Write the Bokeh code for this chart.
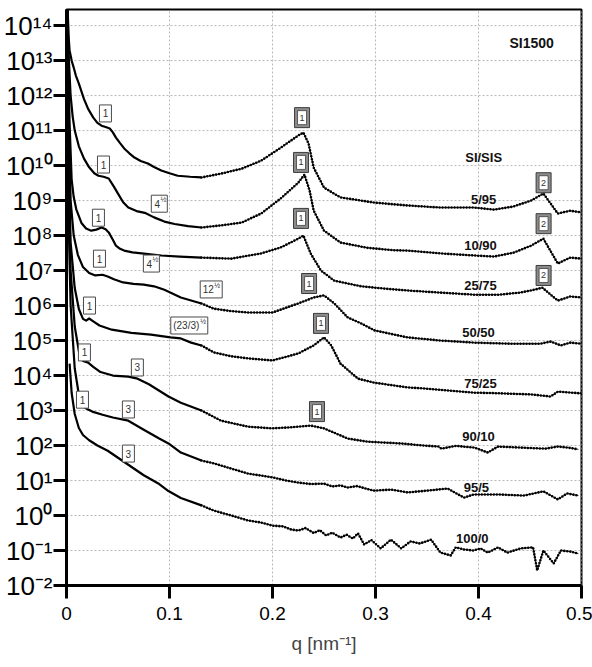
import numpy as np
from bokeh.plotting import figure
from bokeh.models import Range1d, FixedTicker, ColumnDataSource
from bokeh.embed import file_html
from bokeh.resources import INLINE
from bokeh.core.properties import value

# Scattering vector q [nm^-1] and log10 of the scattered intensity (shifted curves)
q_5_95 = [0.001, 0.002, 0.003, 0.005, 0.007, 0.009, 0.012, 0.017, 0.021, 0.026, 0.030, 0.034, 0.038, 0.042,
          0.045, 0.048, 0.052, 0.056, 0.061, 0.066, 0.072, 0.079, 0.085, 0.092, 0.100, 0.108, 0.120, 0.131,
          0.150, 0.170, 0.189, 0.208, 0.225, 0.230, 0.235, 0.240, 0.250, 0.266, 0.286, 0.299, 0.331, 0.363,
          0.396, 0.415, 0.434, 0.451, 0.463, 0.477, 0.489, 0.500]
lg_5_95 = [14.6, 13.7, 13.29, 13.0, 12.8, 12.58, 12.34, 11.9, 11.62, 11.37, 11.22, 11.14, 11.1, 11.06,
           10.95, 10.8, 10.64, 10.49, 10.35, 10.23, 10.13, 10.06, 9.96, 9.86, 9.78, 9.71, 9.68, 9.66,
           9.77, 9.91, 10.14, 10.51, 10.86, 10.94, 10.63, 9.94, 9.37, 9.09, 9.0, 8.94, 8.86, 8.8,
           8.8, 8.74, 8.83, 9.0, 9.2, 8.63, 8.71, 8.66]

q_10_90 = [0.001, 0.002, 0.004, 0.006, 0.008, 0.012, 0.017, 0.022, 0.027, 0.031, 0.036, 0.041, 0.046, 0.050,
           0.055, 0.060, 0.068, 0.076, 0.085, 0.095, 0.105, 0.118, 0.131, 0.150, 0.170, 0.189, 0.208, 0.225,
           0.231, 0.236, 0.240, 0.250, 0.266, 0.292, 0.318, 0.331, 0.363, 0.396, 0.415, 0.434, 0.451, 0.463,
           0.477, 0.489, 0.500]
lg_10_90 = [14.6, 13.2, 12.0, 11.4, 11.0, 10.55, 10.2, 9.95, 9.78, 9.71, 9.68, 9.63, 9.4, 9.2,
            8.95, 8.8, 8.7, 8.65, 8.52, 8.4, 8.33, 8.27, 8.23, 8.29, 8.37, 8.63, 9.06, 9.51,
            9.74, 9.29, 8.71, 8.14, 7.8, 7.65, 7.58, 7.57, 7.49, 7.43, 7.4, 7.51, 7.71, 7.91,
            7.2, 7.37, 7.34]

q_25_75 = [0.001, 0.002, 0.003, 0.005, 0.007, 0.0095, 0.0145, 0.019, 0.024, 0.029, 0.034, 0.038, 0.041, 0.045,
           0.048, 0.052, 0.056, 0.064, 0.073, 0.092, 0.110, 0.131, 0.160, 0.189, 0.208, 0.225, 0.230, 0.237,
           0.247, 0.260, 0.286, 0.310, 0.331, 0.363, 0.396, 0.420, 0.440, 0.451, 0.462, 0.477, 0.489, 0.500]
lg_25_75 = [14.6, 12.6, 11.2, 9.6, 9.1, 8.75, 8.36, 8.2, 8.14, 8.17, 8.23, 8.18, 8.09, 7.88,
            7.71, 7.62, 7.57, 7.52, 7.49, 7.43, 7.4, 7.37, 7.34, 7.49, 7.66, 7.91, 8.0, 7.49,
            7.0, 6.71, 6.55, 6.48, 6.43, 6.37, 6.31, 6.31, 6.37, 6.43, 6.51, 6.14, 6.26, 6.23]

q_50_50 = [0.001, 0.002, 0.004, 0.007, 0.011, 0.016, 0.022, 0.028, 0.035, 0.040, 0.046, 0.055, 0.065, 0.075,
           0.085, 0.095, 0.111, 0.131, 0.143, 0.160, 0.176, 0.200, 0.225, 0.240, 0.250, 0.260, 0.273, 0.286,
           0.299, 0.331, 0.363, 0.396, 0.430, 0.460, 0.470, 0.480, 0.489, 0.500]
lg_50_50 = [14.6, 11.5, 9.0, 8.0, 7.45, 7.1, 6.93, 6.86, 6.88, 6.83, 6.75, 6.66, 6.62, 6.6,
            6.55, 6.45, 6.23, 6.06, 5.91, 5.84, 5.8, 5.8, 6.06, 6.23, 6.29, 6.06, 5.66, 5.49,
            5.29, 5.09, 5.0, 4.94, 4.91, 4.91, 4.97, 4.86, 4.94, 4.91]

q_75_25 = [0.001, 0.002, 0.004, 0.008, 0.012, 0.016, 0.019, 0.022, 0.026, 0.032, 0.044,
           0.063, 0.082, 0.101, 0.111, 0.121, 0.131, 0.143, 0.160, 0.176, 0.200,
           0.225, 0.240, 0.250, 0.257, 0.266, 0.283, 0.298, 0.331, 0.347, 0.380,
           0.396, 0.412, 0.451, 0.470, 0.477, 0.500]
lg_75_25 = [14.6, 10.5, 7.8, 6.5, 5.9, 5.62, 5.57, 5.63, 5.55, 5.43, 5.31,
            5.22, 5.17, 5.09, 5.06, 4.94, 4.86, 4.66, 4.55, 4.49, 4.43,
            4.63, 4.86, 5.09, 4.86, 4.34, 3.91, 3.8, 3.66, 3.63, 3.55,
            3.51, 3.5, 3.46, 3.4, 3.54, 3.49]

q_90_10 = [0.001, 0.002, 0.004, 0.008, 0.012, 0.016, 0.021, 0.026, 0.033, 0.045, 0.060,
           0.069, 0.080, 0.099, 0.111, 0.131, 0.150, 0.176, 0.199, 0.218, 0.237,
           0.250, 0.273, 0.292, 0.324, 0.347, 0.361, 0.364, 0.378, 0.396, 0.409,
           0.419, 0.441, 0.465, 0.477, 0.487, 0.497]
lg_90_10 = [14.6, 9.5, 7.0, 5.4, 4.7, 4.42, 4.37, 4.25, 4.1, 4.0, 3.97,
            3.91, 3.75, 3.4, 3.22, 3.0, 2.71, 2.54, 2.49, 2.52, 2.57,
            2.49, 2.2, 2.11, 2.06, 2.0, 1.97, 1.91, 1.99, 1.94, 1.8,
            1.97, 1.94, 1.91, 1.97, 1.94, 1.89]

q_95_5 = [0.001, 0.002, 0.004, 0.008, 0.012, 0.016, 0.019, 0.025, 0.035, 0.045, 0.060,
          0.075, 0.090, 0.099, 0.111, 0.131, 0.143, 0.160, 0.176, 0.189, 0.200,
          0.213, 0.225, 0.237, 0.250, 0.258, 0.266, 0.273, 0.282, 0.298, 0.315,
          0.331, 0.350, 0.370, 0.386, 0.395, 0.420, 0.444, 0.463, 0.477, 0.486,
          0.497]
lg_95_5 = [14.6, 8.5, 6.0, 4.2, 3.45, 3.12, 3.06, 2.97, 2.88, 2.8, 2.71,
           2.45, 2.2, 2.06, 1.8, 1.57, 1.49, 1.34, 1.2, 1.14, 1.09,
           1.0, 0.94, 0.9, 0.91, 0.83, 0.86, 0.8, 0.84, 0.71, 0.74,
           0.66, 0.71, 0.77, 0.51, 0.6, 0.6, 0.57, 0.69, 0.46, 0.63,
           0.57]

q_100_0 = [0.003, 0.005, 0.008, 0.012, 0.016, 0.022, 0.030, 0.040, 0.050, 0.060,
           0.075, 0.090, 0.099, 0.111, 0.131, 0.143, 0.160, 0.176, 0.189, 0.200,
           0.210, 0.218, 0.225, 0.232, 0.240, 0.246, 0.252, 0.258, 0.266, 0.272,
           0.278, 0.283, 0.289, 0.296, 0.305, 0.315, 0.325, 0.334, 0.343, 0.354,
           0.363, 0.373, 0.378, 0.386, 0.395, 0.402, 0.409, 0.419, 0.428, 0.441,
           0.453, 0.457, 0.463, 0.473, 0.480, 0.489, 0.497]
lg_100_0 = [4.34, 3.5, 2.9, 2.5, 2.3, 2.15, 2.0, 1.85, 1.65, 1.45,
            1.15, 0.9, 0.7, 0.5, 0.29, 0.14, 0.0, -0.14, -0.2, -0.29,
            -0.31, -0.4, -0.43, -0.36, -0.5, -0.42, -0.57, -0.49, -0.63, -0.55,
            -0.66, -0.51, -0.83, -0.7, -0.94, -0.69, -0.94, -0.74, -0.8, -0.69,
            -1.06, -1.14, -0.91, -0.97, -1.0, -0.94, -1.06, -0.91, -1.06, -0.94,
            -0.91, -1.57, -1.0, -1.37, -1.0, -1.03, -1.09]

blend_names = ["5/95", "10/90", "25/75", "50/50", "75/25", "90/10", "95/5", "100/0"]
blend_q = [q_5_95, q_10_90, q_25_75, q_50_50, q_75_25, q_90_10, q_95_5, q_100_0]
blend_lg = [lg_5_95, lg_10_90, lg_25_75, lg_50_50, lg_75_25, lg_90_10, lg_95_5, lg_100_0]

# Axis ticks
y_exponents = list(range(-2, 15))
SUP = str.maketrans("-0123456789", "\u207b\u2070\u00b9\u00b2\u00b3\u2074\u2075\u2076\u2077\u2078\u2079")
y_tick_labels = ["10" + str(e).translate(SUP) for e in y_exponents]
x_ticks = [0.0, 0.1, 0.2, 0.3, 0.4, 0.5]
x_tick_labels = ["0", "0.1", "0.2", "0.3", "0.4", "0.5"]

# Peak index annotations: low-q (single frame) and Bragg peaks (double frame)
low_q = [0.0378, 0.0359, 0.0901, 0.031, 0.032, 0.0824, 0.1405, 0.0223, 0.1192, 0.0174, 0.0688, 0.0155, 0.0601, 0.0601]
low_lg = [11.49, 10.03, 8.91, 8.51, 7.34, 7.20, 6.46, 6.00, 5.43, 4.66, 4.23, 3.31, 3.03, 1.77]
low_main = ["1", "1", "4", "1", "1", "4", "12", "1", "(23/3)", "1", "3", "1", "3", "3"]
low_sup = ["", "", "\u00bd", "", "", "\u00bd", "\u00bd", "", "\u00bd", "", "", "", "", ""]
# box width and text offsets (screen px)
low_w = [12, 12, 16, 12, 12, 16, 22, 12, 37, 12, 12, 12, 12, 12]
low_xm = [0, 0, -2, 0, 0, -2, -3, 0, -3, 0, 0, 0, 0, 0]
low_xs = [0, 0, 4, 0, 0, 4, 6, 0, 14, 0, 0, 0, 0, 0]

peak_q = [0.2287, 0.2277, 0.2277, 0.2355, 0.2471, 0.2432, 0.4632, 0.4632, 0.4632]
peak_lg = [11.37, 10.09, 8.49, 6.63, 5.49, 2.97, 9.51, 8.34, 6.86]
peak_main = ["1", "1", "1", "1", "1", "1", "2", "2", "2"]

label_q = [0.405, 0.402, 0.402, 0.400, 0.402, 0.400, 0.398, 0.394]
label_lg = [9.03, 7.71, 6.57, 5.23, 3.77, 2.26, 0.80, -0.66]

FONT = "Liberation Sans"
Q_SPLIT = 0.131
Y_MIN, Y_MAX = 1e-2, 10 ** 14.46

p = figure(width=592, height=667, output_backend="svg", toolbar_location=None,
           x_range=Range1d(0, 0.5), y_range=Range1d(Y_MIN, Y_MAX),
           y_axis_type="log", min_border_left=65, min_border_right=11,
           min_border_top=9, min_border_bottom=82)
p.outline_line_color = "black"
p.outline_line_width = 2
p.grid.visible = False

y_tick_values = [10.0 ** e for e in y_exponents]
p.yaxis.ticker = FixedTicker(ticks=y_tick_values)
p.yaxis.major_label_overrides = {v: lab for v, lab in zip(y_tick_values, y_tick_labels)}
p.xaxis.ticker = FixedTicker(ticks=x_ticks)
p.xaxis.major_label_overrides = {t: lab for t, lab in zip(x_ticks, x_tick_labels)}

for ax in (p.xaxis[0], p.yaxis[0]):
    ax.axis_line_width = 3
    ax.axis_line_color = "black"
    ax.major_tick_line_width = 3
    ax.major_tick_line_color = "black"
    ax.major_tick_out = 13
    ax.major_tick_in = 0
    ax.minor_tick_line_color = None
    ax.major_label_text_font = FONT
    ax.major_label_text_color = "black"
p.yaxis.major_label_text_font_size = "26px"
p.xaxis.major_label_text_font_size = "19px"
p.yaxis.major_label_standoff = 1
p.xaxis.major_label_standoff = 8
p.xaxis.axis_label = "q [nm\u207b\u00b9]"
p.xaxis.axis_label_text_font = FONT
p.xaxis.axis_label_text_font_size = "19px"
p.xaxis.axis_label_text_font_style = "normal"
p.xaxis.axis_label_standoff = 10

# dotted grid lines at every tick, drawn beneath the curves
p.segment(x0=x_ticks, y0=[Y_MIN] * len(x_ticks), x1=x_ticks, y1=[Y_MAX] * len(x_ticks),
          line_color="#b8b8b8", line_width=1, line_dash="2 2")
p.segment(x0=[0.0] * len(y_tick_values), y0=y_tick_values, x1=[0.5] * len(y_tick_values), y1=y_tick_values,
          line_color="#b8b8b8", line_width=1, line_dash="2 2")

# Scattering curves: solid at low q, dotted data points at higher q
for q, lg in zip(blend_q, blend_lg):
    q = np.asarray(q, dtype=float)
    inten = 10.0 ** np.asarray(lg, dtype=float)
    lo = q <= Q_SPLIT + 1e-9
    hi = q >= Q_SPLIT - 1e-9
    p.line(q[lo], inten[lo], line_color="black", line_width=2.2, line_join="round")
    p.line(q[hi], inten[hi], line_color="#222222", line_width=1.0)
    p.line(q[hi], inten[hi], line_color="black", line_width=2.6,
           line_dash="0 3", line_cap="round")

# Single-frame index boxes
low_src = ColumnDataSource(dict(q=low_q, y=[10.0 ** v for v in low_lg], main=low_main, sup=low_sup,
                                w=low_w, xm=low_xm, xs=low_xs))
p.rect(x="q", y="y", width="w", height=17, width_units="screen", height_units="screen",
       fill_color="white", line_color="#4a4a4a", line_width=1, source=low_src)
p.text(x="q", y="y", text="main", x_offset="xm", source=low_src, text_align="center", text_baseline="middle",
       text_font=value(FONT), text_font_size="10px", text_color="#333333")
p.text(x="q", y="y", text="sup", x_offset="xs", y_offset=-4, source=low_src, text_align="center",
       text_baseline="middle", text_font=value(FONT), text_font_size="7px", text_color="#333333")

# Double-frame boxes at the Bragg peaks
pk_src = ColumnDataSource(dict(q=peak_q, y=[10.0 ** v for v in peak_lg], main=peak_main))
p.rect(x="q", y="y", width=15, height=20, width_units="screen", height_units="screen",
       fill_color="#8c8c8c", line_color="#3c3c3c", line_width=1, source=pk_src)
p.rect(x="q", y="y", width=9, height=14, width_units="screen", height_units="screen",
       fill_color="white", line_color="#3c3c3c", line_width=0.8, source=pk_src)
p.text(x="q", y="y", text="main", source=pk_src, text_align="center", text_baseline="middle",
       text_font=value(FONT), text_font_size="9px", text_color="#333333")

# Blend labels and titles
lab_src = ColumnDataSource(dict(q=label_q, y=[10.0 ** v for v in label_lg], name=blend_names))
p.text(x="q", y="y", text="name", source=lab_src, text_align="center", text_baseline="middle",
       text_font=value(FONT), text_font_style="bold", text_font_size="13px", text_color="#111111")
p.text(x=[0.405], y=[10 ** 10.23], text=["SI/SIS"], text_align="center", text_baseline="middle",
       text_font=value(FONT), text_font_style="bold", text_font_size="13px", text_color="#111111")
p.text(x=[0.4516], y=[10 ** 13.49], text=["SI1500"], text_align="center", text_baseline="middle",
       text_font=value(FONT), text_font_style="bold", text_font_size="14px", text_color="#111111")

open("out.html", "w").write(file_html(p, INLINE))
